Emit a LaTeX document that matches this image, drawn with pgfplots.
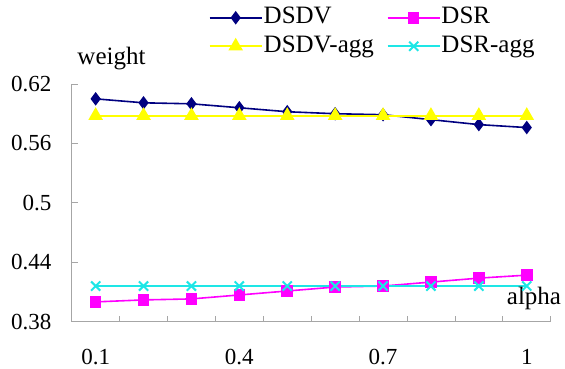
\documentclass[border=0pt]{standalone}
\usepackage{fontspec}
\setmainfont{Liberation Serif}
\usepackage{pgfplots}
\pgfplotsset{compat=1.18}
\definecolor{dsdv}{RGB}{0,0,128}
\definecolor{dsr}{RGB}{255,0,255}
\definecolor{dsdvagg}{RGB}{255,255,0}
\definecolor{dsragg}{RGB}{30,230,230}
\begin{document}
\begin{tikzpicture}
\begin{axis}[
  scale only axis, width=479pt, height=237.7pt,
  xmin=0.5, xmax=10.5, ymin=0.38, ymax=0.62,
  axis lines*=left,
  axis line style={draw=gray!70, line width=0.8pt},
  clip=false,
  tick align=inside,
  major tick length=6pt,
  tick style={draw=gray!70, line width=0.8pt},
  xtick={1.5,2.5,...,10.5},
  xticklabels={},
  extra x ticks={1,4,7,10},
  extra x tick labels={0.1,0.4,0.7,1},
  extra x tick style={tick style={draw=none}},
  ytick={0.38,0.44,0.5,0.56,0.62},
  yticklabels={0.38,0.44,0.5,0.56,0.62},
  /pgf/number format/assume math mode=true,
  ticklabel style={font=\fontsize{23}{27}\selectfont, inner sep=0pt},
  xticklabel style={anchor=north, yshift=-27pt},
  yticklabel style={anchor=east, xshift=-20pt},
  legend columns=2,
  legend style={at={(rel axis cs:0,1)}, anchor=north west, xshift=137pt, yshift=80.5pt,
    draw=none, fill=none, inner sep=0pt, outer sep=0pt,
    font=\fontsize{25}{30}\selectfont,
    nodes={inner sep=1pt, text height=19pt, text depth=7.5pt},
    /tikz/every even column/.append style={column sep=12pt}},
  legend cell align=left,
  legend image code/.code={\draw[mark repeat=2,mark phase=2] plot coordinates {(0pt,0pt)(26pt,0pt)(52pt,0pt)};},
]
\addplot[color=dsdv, line width=1.6pt, mark=diamond*, mark size=5.5pt, mark options={fill=dsdv, solid}]
  coordinates {(1,0.605)(2,0.601)(3,0.600)(4,0.596)(5,0.592)(6,0.590)(7,0.589)(8,0.584)(9,0.579)(10,0.576)};
\addlegendentry{DSDV}
\addplot[color=dsr, line width=1.6pt, mark=square*, mark size=5pt, mark options={fill=dsr, solid}]
  coordinates {(1,0.400)(2,0.402)(3,0.403)(4,0.407)(5,0.411)(6,0.415)(7,0.416)(8,0.420)(9,0.424)(10,0.427)};
\addlegendentry{DSR}
\addplot[color=dsdvagg, line width=2pt, mark=triangle*, mark size=6.5pt, mark options={fill=dsdvagg, solid}]
  coordinates {(1,0.588)(2,0.588)(3,0.588)(4,0.588)(5,0.588)(6,0.588)(7,0.588)(8,0.588)(9,0.588)(10,0.588)};
\addlegendentry{DSDV-agg}
\addplot[color=dsragg, line width=1.6pt, mark=x, mark size=6.5pt, mark options={solid, line width=2pt}]
  coordinates {(1,0.416)(2,0.416)(3,0.416)(4,0.416)(5,0.416)(6,0.416)(7,0.416)(8,0.416)(9,0.416)(10,0.416)};
\addlegendentry{DSR-agg}
\node[anchor=base west, inner sep=0pt, font=\fontsize{25}{30}\selectfont] at (rel axis cs:0,1) [xshift=5.6pt, yshift=19.7pt] {weight};
\node[anchor=base west, inner sep=0pt, font=\fontsize{25}{30}\selectfont] at (rel axis cs:1,0) [xshift=-44pt, yshift=16.7pt] {alpha};
\end{axis}
\path (current axis.south west) ++(-71.7pt,-47.3pt) rectangle ++(565pt,369pt);
\end{tikzpicture}
\end{document}
